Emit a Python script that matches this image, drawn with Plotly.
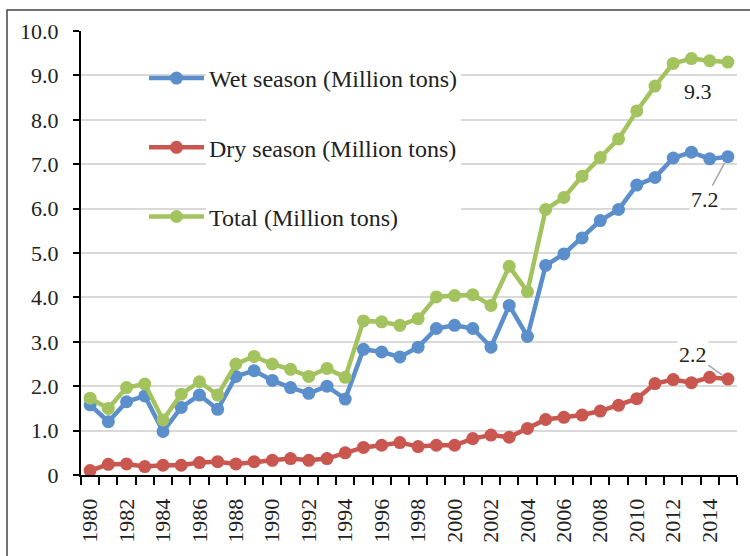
import plotly.graph_objects as go

years = list(range(1980, 2016))
wet = [1.58, 1.20, 1.65, 1.78, 0.98, 1.52, 1.80, 1.48, 2.22, 2.35, 2.13, 1.97, 1.84, 2.00, 1.71, 2.83,
       2.77, 2.66, 2.88, 3.30, 3.37, 3.30, 2.88, 3.82, 3.12, 4.72, 4.98, 5.34, 5.73, 5.98, 6.53, 6.70,
       7.14, 7.27, 7.12, 7.17]
dry = [0.10, 0.24, 0.25, 0.19, 0.22, 0.22, 0.28, 0.30, 0.25, 0.30, 0.33, 0.37, 0.33, 0.37, 0.50, 0.62,
       0.67, 0.73, 0.64, 0.67, 0.67, 0.82, 0.90, 0.85, 1.05, 1.25, 1.30, 1.35, 1.44, 1.57, 1.72, 2.06,
       2.15, 2.08, 2.20, 2.16]
total = [1.73, 1.50, 1.97, 2.05, 1.24, 1.82, 2.10, 1.80, 2.50, 2.67, 2.50, 2.38, 2.22, 2.40, 2.20, 3.47,
         3.45, 3.37, 3.52, 4.01, 4.04, 4.06, 3.82, 4.70, 4.13, 5.98, 6.25, 6.73, 7.15, 7.57, 8.20, 8.76,
         9.27, 9.38, 9.33, 9.30]
names = ["Wet season (Million tons)", "Dry season (Million tons)", "Total (Million tons)"]
colors = ["#5A8FCC", "#C9574F", "#A2C35E"]
y_ticks = [0, 1, 2, 3, 4, 5, 6, 7, 8, 9, 10]
y_ticktext = ["0", "1.0", "2.0", "3.0", "4.0", "5.0", "6.0", "7.0", "8.0", "9.0", "10.0"]
x_ticks = list(range(1980, 2015, 2))

FONT = "Liberation Serif"
TXT = "#222"
fig = go.Figure()
for i, (name, vals, col) in enumerate(zip(names, [wet, dry, total], colors)):
    fig.add_trace(go.Scatter(
        x=years, y=vals, name=name, mode="lines+markers", legendgroup=f"g{i}",
        line=dict(color=col, width=4.5),
        marker=dict(color=col, size=13),
    ))

# data labels at last year
last = years[-1]
fig.add_annotation(x=last, y=total[-1], text=f"{total[-1]:.1f}", showarrow=False,
                   xshift=-30, yshift=-29, font=dict(family=FONT, size=22, color=TXT))
fig.add_annotation(x=last, y=wet[-1], text=f"{wet[-1]:.1f}", showarrow=True, arrowhead=0,
                   arrowcolor="#A6A6A6", arrowwidth=1.5, ax=-23, ay=43, standoff=7,
                   bgcolor="white", font=dict(family=FONT, size=22, color=TXT))
fig.add_annotation(x=last, y=dry[-1], text=f"{dry[-1]:.1f}", showarrow=True, arrowhead=0,
                   arrowcolor="#A6A6A6", arrowwidth=1.5, ax=-35, ay=-25, standoff=7,
                   bgcolor="white", font=dict(family=FONT, size=22, color=TXT))

W, H = 750, 556
L, R, T, B = 81, 13, 31, 81
pw, ph = W - L - R, H - T - B
def px(x):
    return (x - L) / pw
def py(y):
    return (H - B - y) / ph

# outer frame
fig.add_shape(type="rect", xref="paper", yref="paper", x0=px(7), x1=px(760), y0=py(570), y1=py(10),
              line=dict(color="#444", width=1.5), fillcolor="rgba(0,0,0,0)", layer="above")
# legend background (text area)
fig.add_shape(type="rect", xref="paper", yref="paper", x0=px(206), x1=px(461), y0=py(235), y1=py(55),
              line=dict(width=0), fillcolor="white", layer="above")

fig.update_layout(
    width=W, height=H, margin=dict(l=L, r=R, t=T, b=B, autoexpand=False),
    plot_bgcolor="white", paper_bgcolor="white",
    font=dict(family=FONT, size=22, color=TXT),
    showlegend=True,
    legend=dict(x=px(144), y=py(56), xanchor="left", yanchor="top",
                bgcolor="rgba(0,0,0,0)", itemwidth=55, tracegroupgap=35,
                font=dict(family=FONT, size=24, color=TXT)),
    xaxis=dict(range=[1979.5, 2015.5], tickmode="array", tickvals=x_ticks, ticks="",
               tickangle=-90, showgrid=False, zeroline=False, automargin=False,
               showline=True, linecolor="black", linewidth=2, ticklabelstandoff=13,
               minor=dict(tick0=1979.5, dtick=1, ticks="outside", ticklen=8, tickcolor="black", tickwidth=1.5),
               tickfont=dict(family=FONT, size=22, color=TXT)),
    yaxis=dict(range=[0, 10], tickmode="array", tickvals=y_ticks, ticktext=y_ticktext,
               ticks="outside", ticklen=6, tickcolor="black", tickwidth=1.5, automargin=False,
               ticklabelstandoff=10,
               showgrid=True, gridcolor="#D9D9D9", gridwidth=2, zeroline=False,
               showline=True, linecolor="black", linewidth=2,
               tickfont=dict(family=FONT, size=22, color=TXT)),
)

fig.write_html("out.html", config={"displayModeBar": False},
               post_script="document.body.style.margin='0';")
